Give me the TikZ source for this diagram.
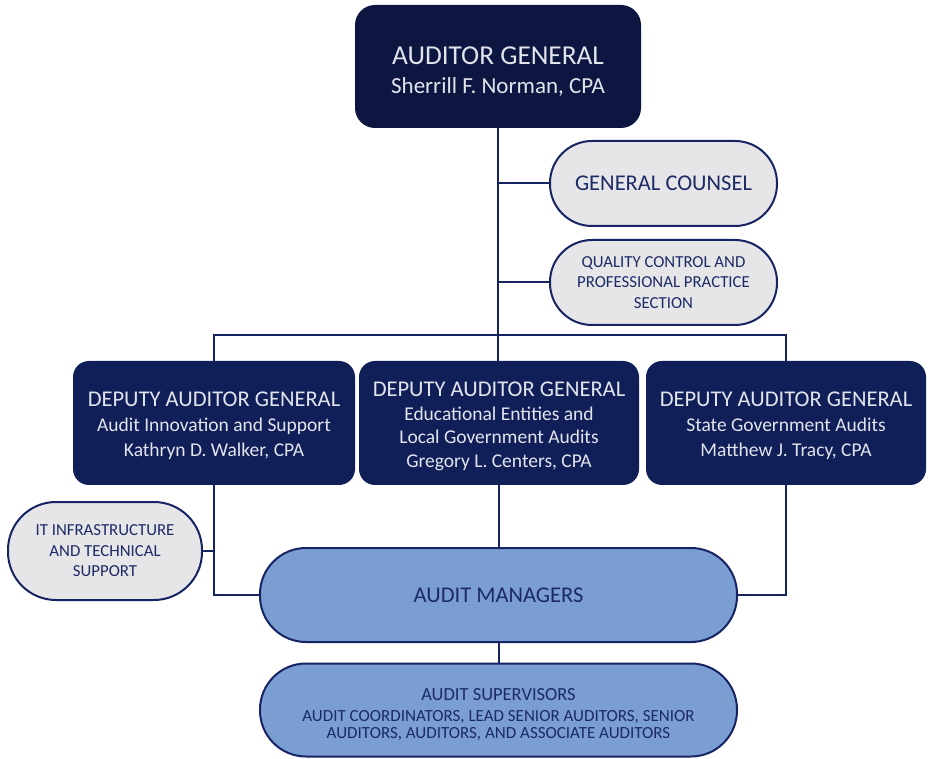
\documentclass[tikz,border=0pt]{standalone}
\usepackage{fontspec}
\setmainfont{Carlito}
\usetikzlibrary{positioning}
\definecolor{TopNavy}{HTML}{0C1641}
\definecolor{DepNavy}{HTML}{111F58}
\definecolor{LineNavy}{HTML}{172463}
\definecolor{TxtNavy}{HTML}{1C2A66}
\definecolor{LGrey}{HTML}{E6E6E8}
\definecolor{MgrBlue}{HTML}{7B9ED2}
\definecolor{LTxt}{HTML}{E2E4EC}

\newcommand{\headsize}{\fontsize{22.5}{25}\selectfont\rule{0pt}{21pt}}

\tikzset{
  darkbox/.style={fill=DepNavy, draw=none, text=LTxt, rounded corners=16pt,
    align=center, inner sep=0pt, font=\fontsize{19.5}{25}\selectfont},
  greybox/.style={fill=LGrey, draw=LineNavy, line width=2pt, text=TxtNavy,
    align=center, inner sep=0pt, font=\fontsize{16.8}{20.5}\selectfont},
  bluebox/.style={fill=MgrBlue, draw=LineNavy, line width=2pt, text=TxtNavy,
    align=center, inner sep=0pt, font=\fontsize{17}{17.5}\selectfont},
  conn/.style={draw=LineNavy, line width=2pt},
}

\begin{document}
\begin{tikzpicture}[x=1pt, y=-1pt]
  \useasboundingbox (0,0) rectangle (930,759);

  % top of the chart
  \node[darkbox, fill=TopNavy, rounded corners=20pt, minimum width=286pt,
    minimum height=123pt, font=\fontsize{23}{29}\selectfont] (ag) at (498,66.5)
    {\fontsize{27.3}{29}\selectfont\rule{0pt}{28pt}AUDITOR GENERAL\\
     Sherrill F. Norman, CPA};

  \node[greybox, rounded corners=42pt, minimum width=227pt,
    minimum height=85pt, font=\fontsize{22.5}{25}\selectfont] (gc)
    at (663.5,183.5) {GENERAL COUNSEL};
  \node[greybox, rounded corners=42pt, minimum width=227pt,
    minimum height=85pt] (qc) at (663.5,282.5)
    {QUALITY CONTROL AND\\ PROFESSIONAL PRACTICE\\ SECTION};

  % deputies
  \node[darkbox, minimum width=282pt, minimum height=124pt] (dag1)
    at (214,423)
    {\headsize DEPUTY AUDITOR GENERAL\\ Audit Innovation and Support\\
     Kathryn D. Walker, CPA};
  \node[darkbox, minimum width=280pt, minimum height=124pt,
    font=\fontsize{19.5}{23.5}\selectfont] (dag2) at (499,423)
    {\headsize DEPUTY AUDITOR GENERAL\\ Educational Entities and\\
     Local Government Audits\\ Gregory L. Centers, CPA};
  \node[darkbox, minimum width=280pt, minimum height=124pt] (dag3)
    at (786,423)
    {\headsize DEPUTY AUDITOR GENERAL\\ State Government Audits\\
     Matthew J. Tracy, CPA};

  % lower levels
  \node[greybox, rounded corners=48pt, minimum width=194pt,
    minimum height=98pt] (it) at (105,551)
    {IT INFRASTRUCTURE\\ AND TECHNICAL\\ SUPPORT};
  \node[bluebox, rounded corners=46pt, minimum width=477pt,
    minimum height=94pt, font=\fontsize{22.5}{25}\selectfont] (am)
    at (498.5,595) {AUDIT MANAGERS};
  \node[bluebox, rounded corners=46pt, minimum width=477pt,
    minimum height=93pt] (as) at (498.5,710)
    {\fontsize{18.5}{20}\selectfont\rule{0pt}{22pt}AUDIT SUPERVISORS\\[3pt]
     AUDIT COORDINATORS, LEAD SENIOR AUDITORS, SENIOR\\
     AUDITORS, AUDITORS, AND ASSOCIATE AUDITORS};

  \coordinate (bus) at (498,335);

  % connectors
  \draw[conn] (ag.south) -- (ag.south |- dag2.north);
  \draw[conn] (gc.west) -- (gc.west -| ag.south);
  \draw[conn] (qc.west) -- (qc.west -| ag.south);
  \draw[conn] (dag1.north) |- (bus) -| (dag3.north);
  \draw[conn] (dag1.south) |- (am.west);
  \draw[conn] (dag3.south) |- (am.east);
  \draw[conn] (dag2.south) -- (dag2.south |- am.north);
  \draw[conn] (it.east) -- (it.east -| dag1.south);
  \draw[conn] (am.south) -- (as.north);
\end{tikzpicture}
\end{document}
